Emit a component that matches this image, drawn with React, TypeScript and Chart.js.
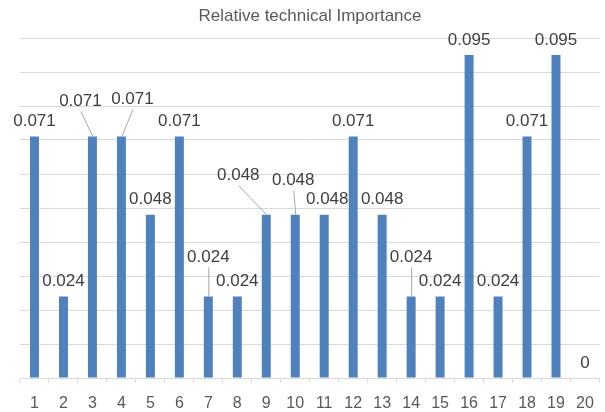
import React, { useEffect, useRef } from "react";
import { Chart, registerables } from "chart.js";

Chart.register(...registerables);

const categories = ["1","2","3","4","5","6","7","8","9","10","11","12","13","14","15","16","17","18","19","20"];
const importance = [0.071,0.024,0.071,0.071,0.048,0.071,0.024,0.024,0.048,0.048,0.048,0.071,0.048,0.024,0.024,0.095,0.024,0.071,0.095,0];
// manual label nudges (px) for labels that were dragged away from their bars (drawn with leader lines)
const labelShiftX = [0,0,-12,11,0,0,0,0,-28,-2,3,0,0,0,0,0,0,0,0,0];
const labelShiftY = [0,0,-20,-22,0,0,-24,0,-24,-19,0,0,0,-24,0,0,0,0,0,0];

const FONT = "'Liberation Sans', Arial, sans-serif";

const labelPlugin = {
  id: "barLabels",
  afterDatasetsDraw(chart: any) {
    const ctx = chart.ctx;
    const meta = chart.getDatasetMeta(0);
    const data = chart.data.datasets[0].data;
    ctx.save();
    ctx.font = `17px ${FONT}`;
    ctx.textAlign = "center";
    ctx.textBaseline = "middle";
    meta.data.forEach((bar: any, i: number) => {
      const dx = labelShiftX[i] || 0;
      const dy = labelShiftY[i] || 0;
      const lx = bar.x + dx;
      const ly = bar.y - 15 + dy;
      if (dy !== 0) {
        ctx.strokeStyle = "#a6a6a6";
        ctx.lineWidth = 1;
        ctx.beginPath();
        ctx.moveTo(lx + 0.5, ly + 10);
        ctx.lineTo(bar.x + 0.5, bar.y);
        ctx.stroke();
      }
      ctx.fillStyle = "#404040";
      ctx.fillText(String(data[i]), lx, ly);
    });
    ctx.restore();
  },
};

export default function App() {
  const ref = useRef<HTMLCanvasElement | null>(null);
  useEffect(() => {
    if (!ref.current) return;
    const chart = new Chart(ref.current, {
      type: "bar",
      data: {
        labels: categories,
        datasets: [
          {
            data: importance,
            backgroundColor: "#4F81BD",
            borderWidth: 0,
            categoryPercentage: 1,
            barPercentage: 0.31,
          },
        ],
      },
      options: {
        animation: false,
        responsive: false,
        maintainAspectRatio: false,
        layout: { padding: { left: 20, right: 5, top: 0, bottom: 0 } },
        plugins: {
          legend: { display: false },
          tooltip: { enabled: false },
          title: {
            display: true,
            text: "Relative technical Importance",
            color: "#595959",
            font: { family: FONT, size: 17, weight: "normal" },
            padding: { top: 6, bottom: 11.6 },
          },
        },
        scales: {
          x: {
            offset: true,
            afterFit: (scale: any) => {
              scale.height = 34;
            },
            grid: {
              display: true,
              offset: true,
              drawOnChartArea: false,
              drawTicks: true,
              tickLength: 5,
              color: "#d9d9d9",
            },
            border: { display: true, color: "#d9d9d9" },
            ticks: {
              color: "#595959",
              font: { family: FONT, size: 16 },
              padding: 11,
              maxRotation: 0,
              autoSkip: false,
            },
          },
          y: {
            min: 0,
            max: 0.1,
            ticks: { display: false, stepSize: 0.01 },
            grid: { color: "#d9d9d9", drawTicks: false },
            border: { display: false },
          },
        },
      },
      plugins: [labelPlugin],
    });
    return () => chart.destroy();
  }, []);
  return (
    <div style={{ position: "fixed", left: 0, top: 0, width: 605, height: 412, background: "#fff" }}>
      <canvas ref={ref} width={605} height={412} style={{ width: 605, height: 412, display: "block" }} />
    </div>
  );
}
